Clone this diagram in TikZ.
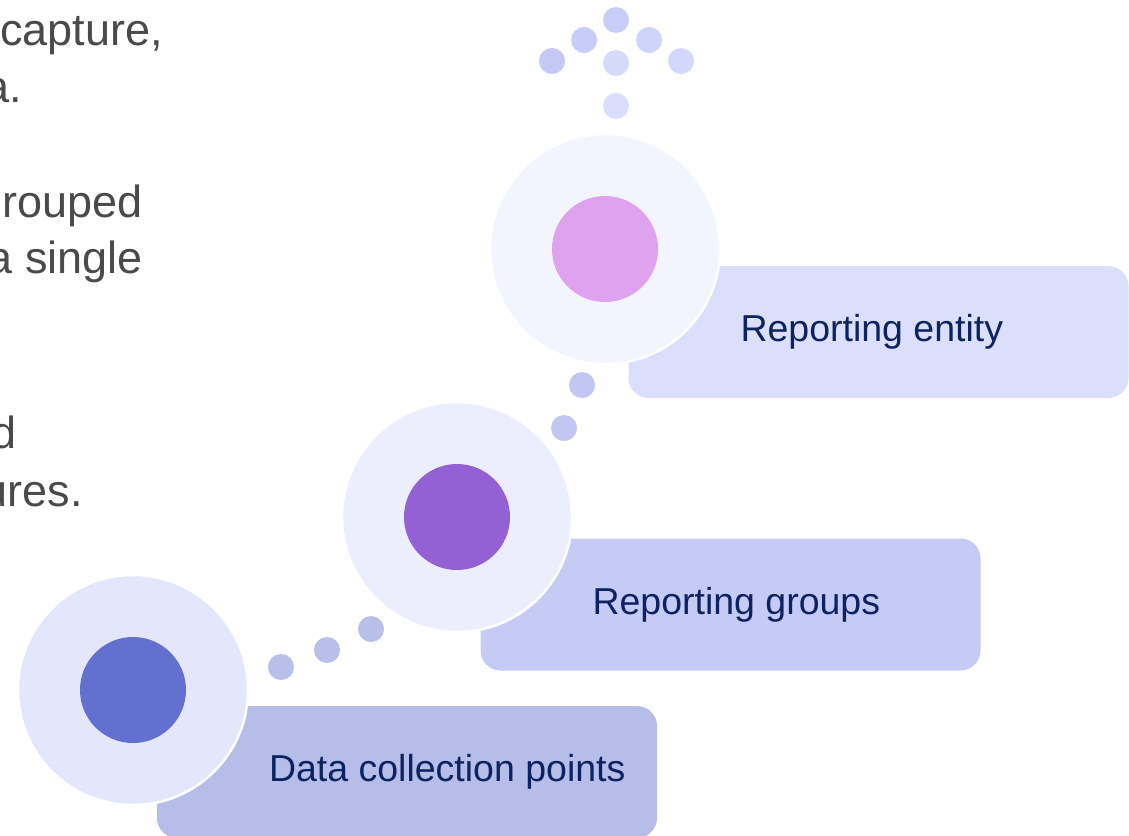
\documentclass[tikz,border=0pt]{standalone}
\usepackage{fontspec}
\setmainfont{Liberation Sans}
\usepackage{xcolor}
\usetikzlibrary{positioning}

\definecolor{bodygray}{HTML}{4A4A4A}
\definecolor{navy}{HTML}{0D2361}
\definecolor{boxlow}{HTML}{B6BDE8}
\definecolor{boxmid}{HTML}{C5CBF5}
\definecolor{boxtop}{HTML}{DCDFFB}
\definecolor{halolow}{HTML}{E4E6FC}
\definecolor{halomid}{HTML}{ECEDFD}
\definecolor{halotop}{HTML}{F3F5FE}
\definecolor{corelow}{HTML}{6470CF}
\definecolor{coremid}{HTML}{9361D4}
\definecolor{coretop}{HTML}{DFA2EE}
\definecolor{dotlow}{HTML}{B8BFE9}
\definecolor{dotmid}{HTML}{C1C7F2}
\definecolor{fan1}{HTML}{C3C9F4}
\definecolor{fan2}{HTML}{C6CCF7}
\definecolor{fan3}{HTML}{C8CEF8}
\definecolor{fan4}{HTML}{CFD4FA}
\definecolor{fan5}{HTML}{D3D7FB}
\definecolor{fan6}{HTML}{D5DAFB}
\definecolor{fan7}{HTML}{DADEFC}

\begin{document}
\begin{tikzpicture}[x=1pt, y=-1pt,
    halo/.style={circle, draw=white, line width=2.5pt, minimum size=230pt, inner sep=0pt},
    core/.style={circle, minimum size=106pt, inner sep=0pt},
    stepbox/.style={rounded corners=20pt, minimum width=500pt, minimum height=132pt, inner sep=0pt},
    lbl/.style={text=navy, font=\fontsize{37.5}{45}\selectfont, inner sep=0pt, anchor=west},
    dot/.style={circle, inner sep=0pt, minimum size=26pt},
    body/.style={text=bodygray, font=\fontsize{45}{54}\selectfont, inner sep=0pt, anchor=base east}]
                        \useasboundingbox (0, 0) rectangle (1129, 835);
                        \clip (0, 0) rectangle (1129, 835);

                        \node[body] (line1) at (163, 45) {capture,};
                        \node[body] (line2) at (22, 102) {a.};
                        \node[body] (line3) at (143, 217) {rouped};
                        \node[body] (line4) at (143, 273) {a single};
                        \node[body] (line5) at (17, 448) {d};
                        \node[body] (line6) at (83, 506) {ures.};

                        \node[stepbox, fill=boxlow] (box1) at (407, 772) {};
                        \node[stepbox, fill=boxmid] (box2) at (730.5, 604.5) {};
                        \node[stepbox, fill=boxtop] (box3) at (878.5, 332) {};

                        \node[halo, fill=halolow] (halo1) at (133, 690) {};
                        \node[halo, fill=halomid] (halo2) at (457, 517) {};
                        \node[halo, fill=halotop] (halo3) at (605, 249) {};

                        \node[core, fill=corelow] (core1) at (halo1) {};
                        \node[core, fill=coremid] (core2) at (halo2) {};
                        \node[core, fill=coretop] (core3) at (halo3) {};

                        \node[lbl, right=112pt of box1.west] (text1) {Data collection points};
                        \node[lbl, right=112pt of box2.west] (text2) {Reporting groups};
                        \node[lbl, right=112pt of box3.west] (text3) {Reporting entity};

                        \foreach \x/\y [count=\i] in {281/667, 327/650, 371/629}
                            \node[dot, fill=dotlow] (low\i) at (\x, \y) {};
                        \foreach \x/\y [count=\i] in {564/428, 582/385}
                            \node[dot, fill=dotmid] (mid\i) at (\x, \y) {};
                        \foreach \x/\y [count=\i] in {552/61, 584/40, 616/20, 649/40, 681/61, 616/63, 616/106}
                            \node[dot, fill=fan\i] (fan\i) at (\x, \y) {};
                    \end{tikzpicture}
\end{document}
